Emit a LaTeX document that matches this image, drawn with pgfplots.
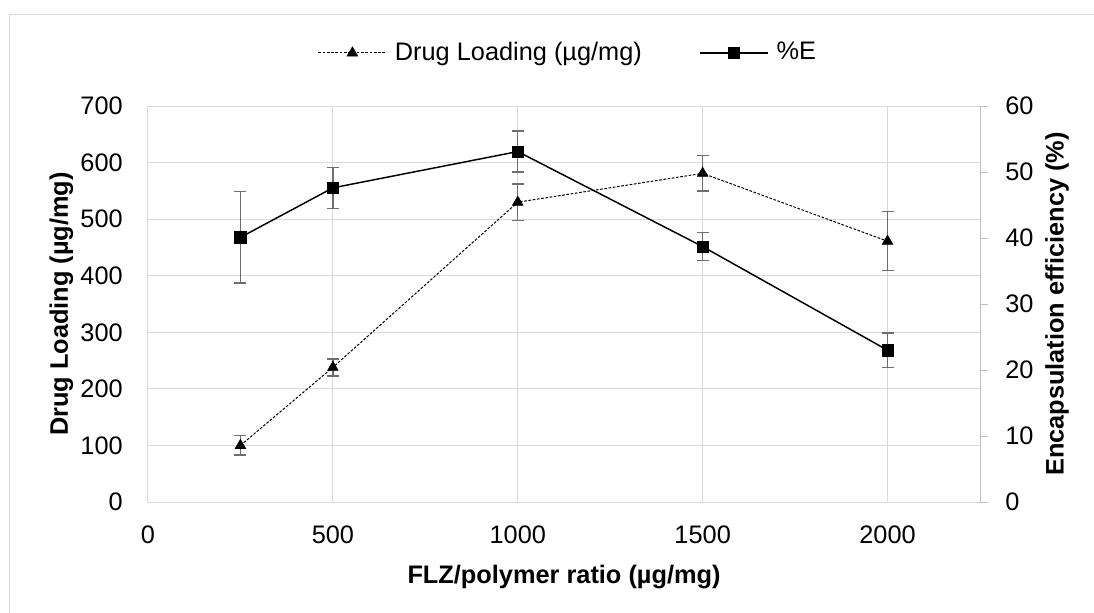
\documentclass[border=0pt]{standalone}
\usepackage{pgfplots}
\pgfplotsset{compat=1.18}
\usepackage{fontspec}
\setmainfont{Liberation Sans}
\definecolor{gridc}{HTML}{D9D9D9}
\definecolor{axc}{HTML}{BFBFBF}
\definecolor{errc}{HTML}{6E6E6E}
\newcommand\ff{\fontsize{19}{23}\selectfont}
\begin{document}
\ff
\begin{tikzpicture}
\path[fill=white, use as bounding box] (-111pt,-82.5pt) rectangle (709.5pt,376.5pt);
\draw[gridc, line width=1.1pt] (-103.9pt,-83pt) -- (-103.9pt,365.6pt) -- (710pt,365.6pt);
\pgfplotsset{
  myax/.style={
    scale only axis, width=624pt, height=297pt,
    at={(0pt,0pt)}, anchor=south west,
    xmin=0, xmax=2250,
    /pgf/number format/assume math mode=true,
    /pgf/number format/1000 sep={},
    tick label style={font=\ff},
    label style={font=\ff\bfseries},
  },
  errs/.style={
    error bars/.cd, y dir=both, y explicit,
    error bar style={errc, line width=1pt, solid},
    error mark options={rotate=90, errc, mark size=4.5pt, line width=1pt, solid},
  },
}
\begin{axis}[myax,
  ymin=0, ymax=700,
  xtick={0,500,...,2000}, ytick={0,100,...,700},
  axis x line*=bottom, axis y line*=left,
  axis line style={gridc, line width=0.75pt, -},
  grid=major, grid style={gridc, line width=0.75pt},
  major tick length=0pt,
  xticklabel style={anchor=base, inner sep=0pt, yshift=-30.75pt},
  yticklabel style={anchor=east, inner sep=0pt, xshift=-18.75pt},
  xlabel={FLZ/polymer ratio (µg/mg)},
  ylabel={Drug Loading (µg/mg)},
  xlabel style={at={(axis description cs:0.5,0)}, anchor=base, inner sep=0pt, yshift=-60.75pt},
  ylabel style={at={(axis description cs:0,0.5)}, anchor=center, inner sep=0pt, yshift=65pt},
]
\addplot[black, line width=0.75pt, dash pattern=on 2pt off 1.2pt,
  mark=triangle*, mark size=4.6pt, mark options={solid, line width=0.4pt},
  errs]
  coordinates {
  (250,100) +- (0,17)
  (500,238) +- (0,15)
  (1000,530) +- (0,32)
  (1500,581) +- (0,31)
  (2000,461) +- (0,52)
};
\end{axis}
\begin{axis}[myax,
  ymin=0, ymax=60, ytick={0,10,...,60},
  axis x line=none, axis y line*=right,
  axis line style={axc, line width=0.75pt, -},
  tick style={axc, line width=0.75pt},
  tick align=outside, major tick length=6pt,
  yticklabel style={anchor=west, inner sep=0pt, xshift=12.75pt},
  ylabel={Encapsulation efficiency (\%)},
  ylabel style={at={(axis description cs:1,0.5)}, anchor=center, inner sep=0pt, yshift=-57.75pt},
  legend style={at={(0.5036,1.134)}, anchor=center, draw=none, fill=none,
    legend columns=2, font=\ff, nodes={inner sep=0pt},
    /tikz/every odd column/.append style={column sep=6pt},
    /tikz/every even column/.append style={column sep=43pt}},
  legend image code/.code={\draw[mark repeat=2,mark phase=2] plot coordinates {(0pt,0pt)(25.5pt,0pt)(51pt,0pt)};},
]
\addlegendimage{black, line width=0.75pt, dash pattern=on 2pt off 1.2pt, mark=triangle*, mark size=4.6pt, mark options={solid, line width=0.4pt}}
\addlegendentry{Drug Loading (µg/mg)}
\addplot[black, line width=1.1pt, mark=square*, mark size=4.3pt, mark options={line width=0.4pt}, errs]
  coordinates {
  (250,40.1) +- (0,6.9)
  (500,47.6) +- (0,3.1)
  (1000,53.1) +- (0,3.1)
  (1500,38.7) +- (0,2.1)
  (2000,23.0) +- (0,2.6)
};
\addlegendentry{\%E}
\end{axis}
\end{tikzpicture}
\end{document}
